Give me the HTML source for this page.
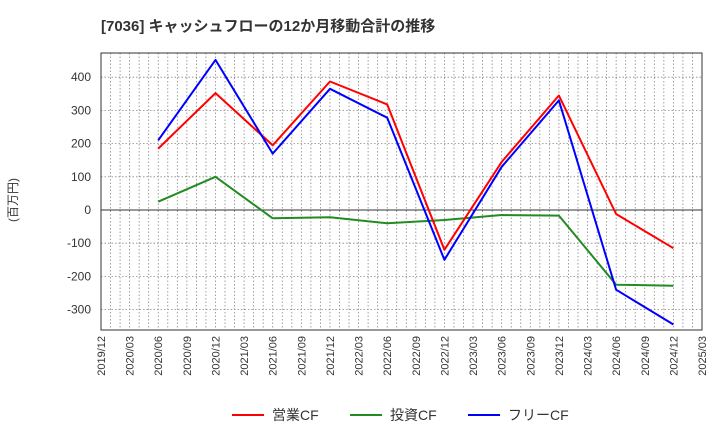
<!DOCTYPE html>
<html><head><meta charset="utf-8"><style>
body{margin:0;background:#fff;font-family:"Liberation Sans","Noto Sans CJK JP",sans-serif;}
svg text{font-family:"Liberation Sans","Noto Sans CJK JP",sans-serif;}
</style></head><body>
<svg id="c" width="720" height="440" xmlns="http://www.w3.org/2000/svg">
<text x="101" y="31" font-size="15" font-weight="bold" fill="#333">[7036]  キャッシュフローの12か月移動合計の推移</text>
<text transform="translate(17,200) rotate(-90)" font-size="12" fill="#333" text-anchor="middle">(百万円)</text>
<g id="grid"></g><g id="axes"></g><g id="series"></g>
<rect x="101" y="53" width="601" height="277" fill="none" stroke="#333" stroke-width="1"/>
<g>
<line x1="232" y1="415" x2="264" y2="415" stroke="#f00" stroke-width="2"/>
<text x="272" y="420" font-size="14" fill="#333">営業CF</text>
<line x1="350" y1="415" x2="382" y2="415" stroke="#228b22" stroke-width="2"/>
<text x="390" y="420" font-size="14" fill="#333">投資CF</text>
<line x1="468" y1="415" x2="500" y2="415" stroke="#00f" stroke-width="2"/>
<text x="508" y="420" font-size="14" fill="#333">フリーCF</text>
</g>
</svg>
<script>
const xTickLabels=["2019/12","2020/03","2020/06","2020/09","2020/12","2021/03","2021/06","2021/09","2021/12","2022/03","2022/06","2022/09","2022/12","2023/03","2023/06","2023/09","2023/12","2024/03","2024/06","2024/09","2024/12","2025/03"];
const yTicks=[400,300,200,100,0,-100,-200,-300];
const periods=["2020/06","2020/12","2021/06","2021/12","2022/06","2022/12","2023/06","2023/12","2024/06","2024/12"];
const operatingCF=[185,352,195,387,318,-120,145,345,-12,-115];
const investingCF=[25,100,-25,-22,-40,-30,-15,-17,-225,-228];
const freeCF=[210,452,170,365,278,-150,130,330,-240,-345];
const NS="http://www.w3.org/2000/svg";
const X0=101,X1=702,Y0v=210,PER100=33.2;
function monthIdx(s){const [y,m]=s.split("/").map(Number);return (y-2019)*12+m-12;}
const TOTAL=monthIdx("2025/03");
function xs(s){return X0+(X1-X0)*monthIdx(s)/TOTAL;}
function ys(v){return Y0v-v*PER100/100;}
function mk(t,a,p){const e=document.createElementNS(NS,t);for(const k in a)e.setAttribute(k,a[k]);p.appendChild(e);return e;}
const grid=document.getElementById("grid"),axes=document.getElementById("axes"),ser=document.getElementById("series");
for(let m=1;m<TOTAL;m++){const x=X0+(X1-X0)*m/TOTAL;
const l=mk("line",{x1:x,x2:x,y1:53,y2:330,stroke:"#888","stroke-width":0.8,"stroke-dasharray":"1.5,2"},grid);

}
yTicks.forEach(v=>{const y=ys(v);
const l=mk("line",{x1:X0,x2:X1,y1:y,y2:y,stroke:v===0?"#333":"#888","stroke-width":v===0?1:0.8,"stroke-dasharray":v===0?"":"1.5,2"},grid);


const t=mk("text",{x:X0-10,y:y+4,"font-size":12,fill:"#333","text-anchor":"end"},axes);t.textContent=v;

});
xTickLabels.forEach(s=>{const x=xs(s);
const t=mk("text",{transform:`translate(${x+4},336) rotate(-90)`,"font-size":11,fill:"#333","text-anchor":"end"},axes);t.textContent=s;

});
function line(vals,color,name){const pts=vals.map((v,i)=>xs(periods[i]).toFixed(1)+","+ys(v).toFixed(1)).join(" ");
const p=mk("polyline",{points:pts,fill:"none",stroke:color,"stroke-width":2,"stroke-linejoin":"round"},ser);

}
line(investingCF,"#228b22","investing-cf-line");
line(operatingCF,"#f00","operating-cf-line");
line(freeCF,"#00f","free-cf-line");
</script>
</body></html>
